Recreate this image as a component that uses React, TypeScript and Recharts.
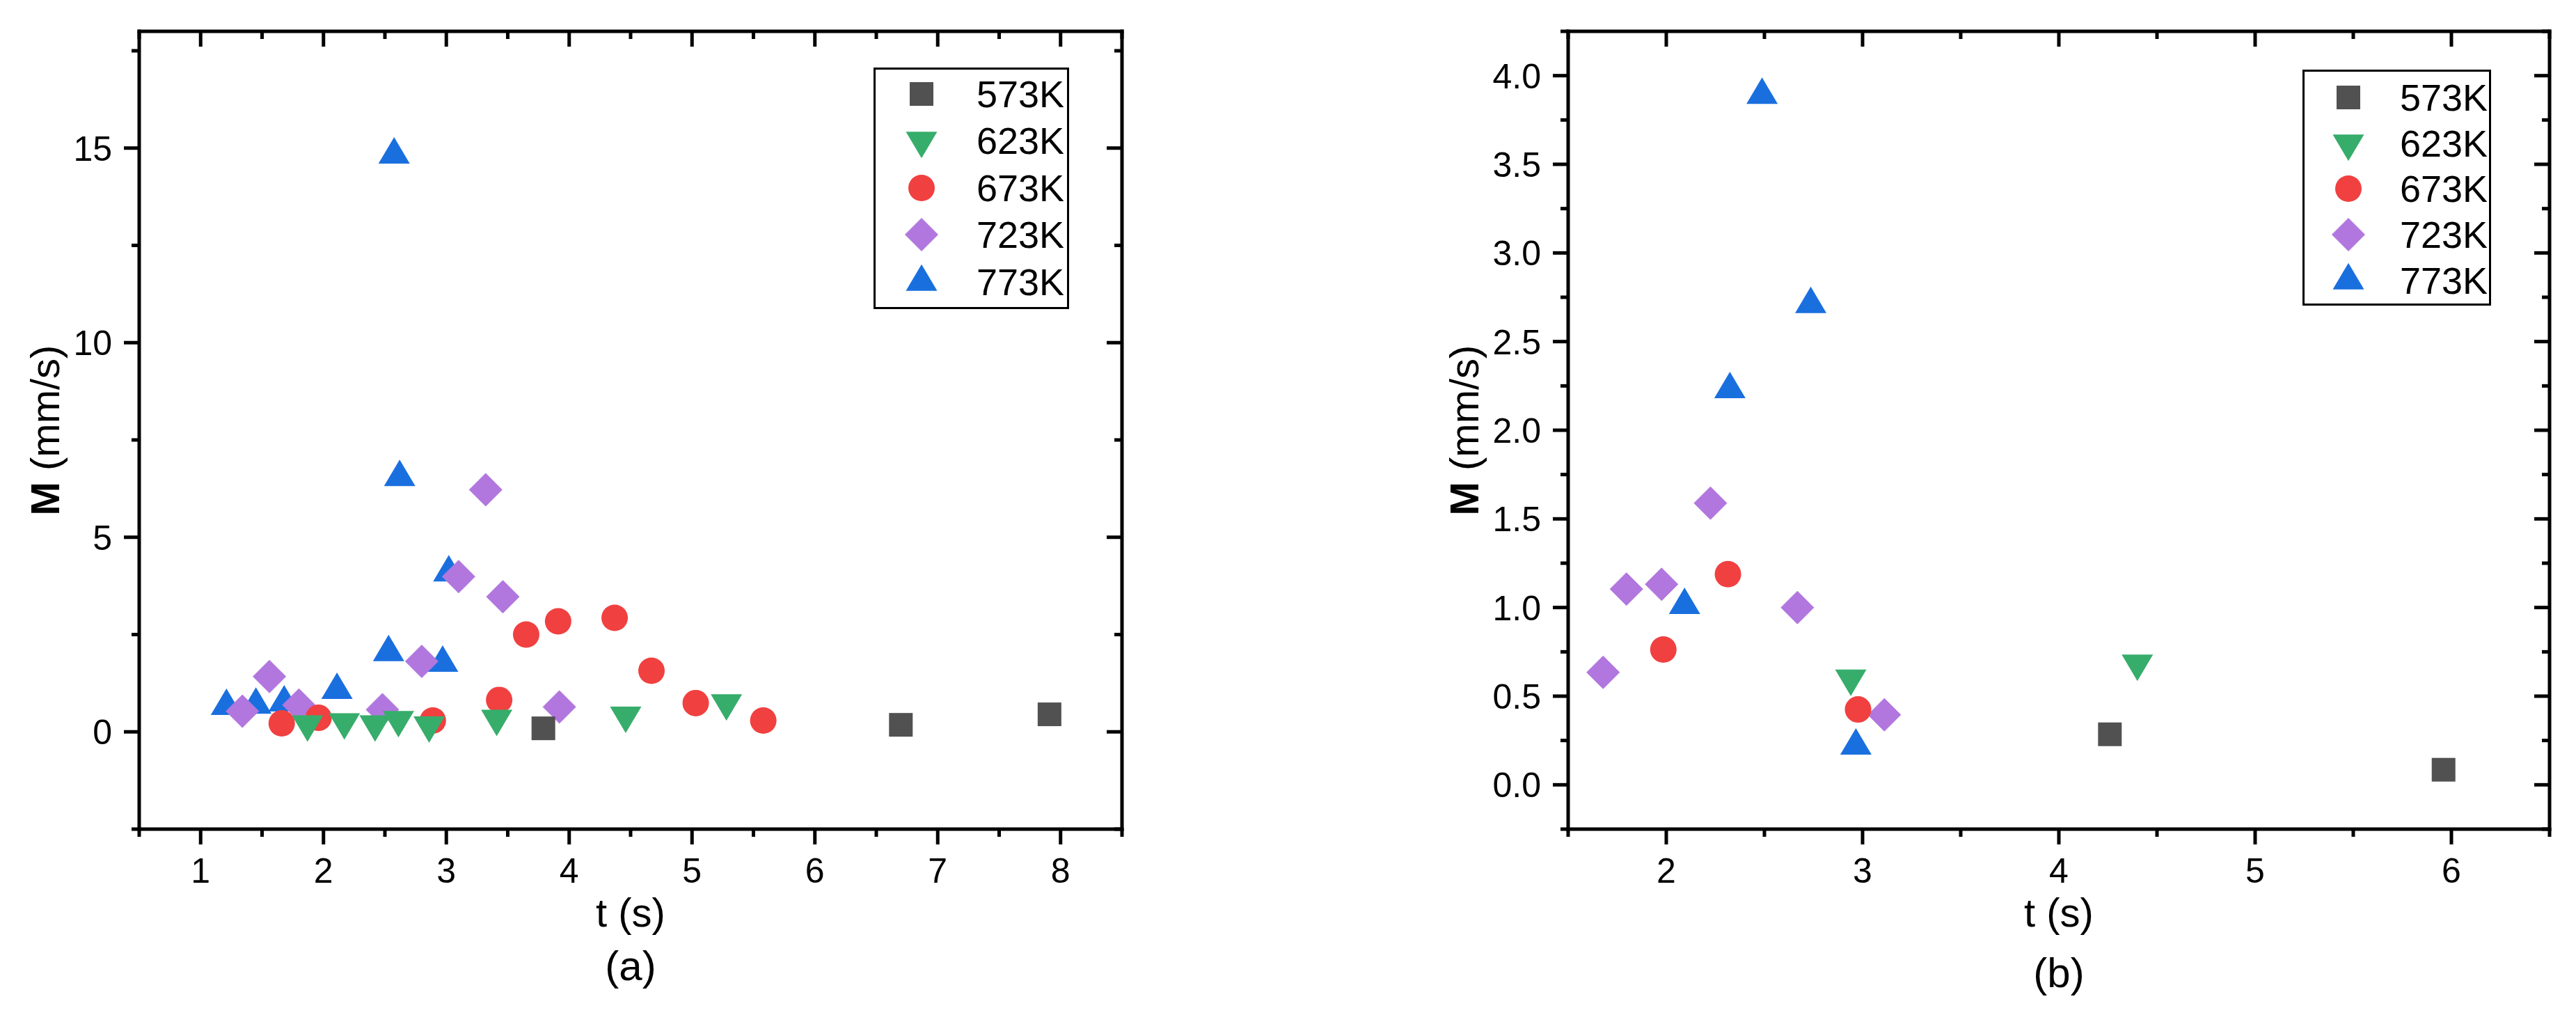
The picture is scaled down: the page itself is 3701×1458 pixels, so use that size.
import { ScatterChart, Scatter, XAxis, YAxis, Legend } from 'recharts'

const FONT = '"Liberation Sans", Arial, Helvetica, sans-serif'

// series names / styles (Origin default palette)
const NAMES = ['573K', '623K', '673K', '723K', '773K']
const COLORS = ['#515151', '#37AD6B', '#F14040', '#B177DE', '#1A6FDF']
const SHAPES = ['square', 'triangleDown', 'circle', 'diamond', 'triangleUp']

// panel (a): [t (s), M (mm/s)]
const A_573K = [[3.79, 0.09], [6.7, 0.18], [7.91, 0.45]]
const A_623K = [[1.87, 0.2], [2.17, 0.25], [2.42, 0.2], [2.61, 0.31], [2.86, 0.17], [3.41, 0.34], [4.46, 0.42], [5.28, 0.74]]
const A_673K = [[1.66, 0.22], [1.96, 0.36], [2.89, 0.29], [3.43, 0.82], [3.65, 2.5], [3.91, 2.84], [4.37, 2.93], [4.67, 1.57], [5.03, 0.74], [5.58, 0.29]]
const A_723K = [[1.34, 0.53], [1.56, 1.42], [1.8, 0.69], [2.48, 0.57], [2.8, 1.81], [3.1, 3.99], [3.32, 6.22], [3.46, 3.47], [3.92, 0.64]]
const A_773K = [[1.21, 0.66], [1.45, 0.69], [1.68, 0.75], [2.11, 1.07], [2.53, 2.04], [2.575, 14.83], [2.62, 6.54], [2.97, 1.77], [3.02, 4.09]]

// panel (b)
const B_573K = [[4.26, 0.285], [5.96, 0.085]]
const B_623K = [[2.94, 0.6], [4.4, 0.685]]
const B_673K = [[1.985, 0.763], [2.314, 1.188], [2.977, 0.425]]
const B_723K = [[1.678, 0.634], [1.797, 1.104], [1.976, 1.131], [2.225, 1.589], [2.668, 1.0], [3.111, 0.395]]
const B_773K = [[2.093, 1.013], [2.324, 2.23], [2.488, 3.89], [2.736, 2.71], [2.966, 0.22]]

// tick values (minor + major)
const A_X_TICKS = [0.5, 1, 1.5, 2, 2.5, 3, 3.5, 4, 4.5, 5, 5.5, 6, 6.5, 7, 7.5, 8, 8.5]
const A_Y_TICKS = [-2.5, 0, 2.5, 5, 7.5, 10, 12.5, 15, 17.5]
const B_X_TICKS = [1.5, 2, 2.5, 3, 3.5, 4, 4.5, 5, 5.5, 6, 6.5]
const B_Y_TICKS = [-0.25, 0, 0.25, 0.5, 0.75, 1, 1.25, 1.5, 1.75, 2, 2.25, 2.5, 2.75, 3, 3.25, 3.5, 3.75, 4, 4.25]

const toPoints = (rows: number[][]) => rows.map(([t, m]) => ({ t, m }))

const MAJOR = 22
const MINOR = 11
const STROKE = 5
const TICK_FONT = 50
const AXIS_LINE = { stroke: '#000', strokeWidth: STROKE, strokeLinecap: 'square' as const }

function Marker({ kind, cx, cy, fill }: { kind: string; cx: number; cy: number; fill: string }) {
  if (kind === 'square') return <rect x={cx - 17} y={cy - 17} width={34} height={34} fill={fill} />
  if (kind === 'circle') return <circle cx={cx} cy={cy} r={19} fill={fill} />
  if (kind === 'diamond') {
    const r = 23.5
    return <path d={`M${cx},${cy - r}L${cx + r},${cy}L${cx},${cy + r}L${cx - r},${cy}Z`} fill={fill} strokeLinejoin="round" stroke={fill} strokeWidth={1} />
  }
  const w = 45
  const h = 38
  if (kind === 'triangleUp')
    return <path d={`M${cx},${cy - (2 * h) / 3}L${cx + w / 2},${cy + h / 3}L${cx - w / 2},${cy + h / 3}Z`} fill={fill} />
  return <path d={`M${cx},${cy + (2 * h) / 3}L${cx + w / 2},${cy - h / 3}L${cx - w / 2},${cy - h / 3}Z`} fill={fill} />
}

interface PanelCfg {
  width: number
  yAxisWidth: number
  rightWidth: number
  xDomain: [number, number]
  yDomain: [number, number]
  xTicks: number[]
  yTicks: number[]
  xMajor: (v: number) => boolean
  yMajor: (v: number) => boolean
  yFmt: (v: number) => string
  yTitleGap: number
  caption: string
  captionDy: number
  series: number[][][]
  legend: { left: number; top: number; width: number; height: number; rowH: number; padTop: number; symX: number; textX: number }
}

const isInt = (v: number) => Math.abs(v - Math.round(v)) < 1e-9

const PANEL_A: PanelCfg = {
  width: 1850,
  yAxisWidth: 200,
  rightWidth: 238,
  xDomain: [0.5, 8.5],
  yDomain: [-2.5, 18],
  xTicks: A_X_TICKS,
  yTicks: A_Y_TICKS,
  xMajor: isInt,
  yMajor: (v) => isInt(v / 5),
  yFmt: (v) => String(v),
  yTitleGap: 115,
  caption: '(a)',
  captionDy: 217,
  series: [A_573K, A_623K, A_673K, A_723K, A_773K],
  legend: { left: 1255, top: 97, width: 281, height: 347, rowH: 67.5, padTop: 1, symX: 69, textX: 148 },
}

const PANEL_B: PanelCfg = {
  width: 1851,
  yAxisWidth: 403,
  rightWidth: 38,
  xDomain: [1.5, 6.5],
  yDomain: [-0.25, 4.25],
  xTicks: B_X_TICKS,
  yTicks: B_Y_TICKS,
  xMajor: isInt,
  yMajor: (v) => isInt(v * 2),
  yFmt: (v) => v.toFixed(1),
  yTitleGap: 129,
  caption: '(b)',
  captionDy: 227,
  series: [B_573K, B_623K, B_673K, B_723K, B_773K],
  legend: { left: 1458, top: 100, width: 271, height: 339, rowH: 65.8, padTop: 4, symX: 66, textX: 140 },
}

function LegendBox({ cfg }: { cfg: PanelCfg['legend'] }) {
  return (
    <div
      style={{
        width: cfg.width,
        height: cfg.height,
        boxSizing: 'border-box',
        border: '3px solid #000',
        background: '#fff',
        paddingTop: cfg.padTop,
      }}
    >
      {NAMES.map((name, i) => (
        <div key={name} style={{ height: cfg.rowH, position: 'relative' }}>
          <svg width={60} height={60} style={{ position: 'absolute', left: cfg.symX - 33, top: cfg.rowH / 2 - 30 }}>
            <Marker kind={SHAPES[i]} cx={30} cy={30} fill={COLORS[i]} />
          </svg>
          <span
            style={{
              position: 'absolute',
              left: cfg.textX - 3,
              top: '50%',
              transform: 'translateY(-50%)',
              fontSize: 54,
              lineHeight: 1,
              fontFamily: FONT,
              color: '#000',
            }}
          >
            {name}
          </span>
        </div>
      ))}
    </div>
  )
}

function Panel({ cfg }: { cfg: PanelCfg }) {
  const bottomTick = (p: any) => {
    const major = cfg.xMajor(p.payload.value)
    return (
      <g>
        <line x1={p.x} x2={p.x} y1={p.y} y2={p.y + (major ? MAJOR : MINOR)} stroke="#000" strokeWidth={STROKE} />
        {major && (
          <text x={p.x} y={p.y + 77} textAnchor="middle" fontSize={TICK_FONT} fontFamily={FONT} fill="#000">
            {String(p.payload.value)}
          </text>
        )}
      </g>
    )
  }
  const topTick = (p: any) => {
    const major = cfg.xMajor(p.payload.value)
    return <line x1={p.x} x2={p.x} y1={p.y} y2={p.y + (major ? MAJOR : MINOR)} stroke="#000" strokeWidth={STROKE} />
  }
  const leftTick = (p: any) => {
    const major = cfg.yMajor(p.payload.value)
    return (
      <g>
        <line x1={p.x - (major ? MAJOR : MINOR)} x2={p.x} y1={p.y} y2={p.y} stroke="#000" strokeWidth={STROKE} />
        {major && (
          <text x={p.x - 39} y={p.y + 18} textAnchor="end" fontSize={TICK_FONT} fontFamily={FONT} fill="#000">
            {cfg.yFmt(p.payload.value)}
          </text>
        )}
      </g>
    )
  }
  const rightTick = (p: any) => {
    const major = cfg.yMajor(p.payload.value)
    return <line x1={p.x - (major ? MAJOR : MINOR)} x2={p.x} y1={p.y} y2={p.y} stroke="#000" strokeWidth={STROKE} />
  }

  const xLabel = (p: any) => {
    const vb = p.viewBox
    const cx = vb.x + vb.width / 2
    return (
      <g>
        <text x={cx} y={vb.y + 140} textAnchor="middle" fontSize={58} fontFamily={FONT} fill="#000">
          t (s)
        </text>
        <text x={cx} y={vb.y + cfg.captionDy} textAnchor="middle" fontSize={60} fontFamily={FONT} fill="#000">
          {cfg.caption}
        </text>
      </g>
    )
  }
  const yLabel = (p: any) => {
    const vb = p.viewBox
    const x = vb.x + vb.width - cfg.yTitleGap
    const y = vb.y + vb.height / 2
    return (
      <text x={x} y={y} transform={`rotate(-90 ${x} ${y})`} textAnchor="middle" fontSize={58} fontFamily={FONT} fill="#000">
        <tspan fontWeight="bold">M</tspan> (mm/s)
      </text>
    )
  }

  // draw 773K first so the other series sit on top, as in the original
  const order = [4, 3, 2, 1, 0]

  return (
    <ScatterChart width={cfg.width} height={1458} margin={{ top: 0, right: 0, bottom: 0, left: 0 }}>
      <XAxis
        xAxisId="bottom"
        type="number"
        dataKey="t"
        domain={cfg.xDomain}
        allowDataOverflow
        ticks={cfg.xTicks}
        interval={0}
        height={267}
        tickSize={0}
        tickMargin={0}
        tickLine={false}
        axisLine={AXIS_LINE}
        tick={bottomTick}
        label={xLabel}
      />
      <XAxis
        xAxisId="top"
        orientation="top"
        type="number"
        dataKey="t"
        domain={cfg.xDomain}
        allowDataOverflow
        ticks={cfg.xTicks}
        interval={0}
        height={45}
        tickSize={0}
        tickMargin={0}
        tickLine={false}
        axisLine={AXIS_LINE}
        tick={topTick}
      />
      <YAxis
        yAxisId="left"
        type="number"
        dataKey="m"
        domain={cfg.yDomain}
        allowDataOverflow
        ticks={cfg.yTicks}
        interval={0}
        width={cfg.yAxisWidth}
        tickSize={0}
        tickMargin={0}
        tickLine={false}
        axisLine={AXIS_LINE}
        tick={leftTick}
        label={yLabel}
      />
      <YAxis
        yAxisId="right"
        orientation="right"
        type="number"
        dataKey="m"
        domain={cfg.yDomain}
        allowDataOverflow
        ticks={cfg.yTicks}
        interval={0}
        width={cfg.rightWidth}
        tickSize={0}
        tickMargin={0}
        tickLine={false}
        axisLine={AXIS_LINE}
        tick={rightTick}
      />
      {order.map((i) => (
        <Scatter
          key={NAMES[i]}
          name={NAMES[i]}
          xAxisId="bottom"
          yAxisId="left"
          data={toPoints(cfg.series[i])}
          fill={COLORS[i]}
          isAnimationActive={false}
          shape={(p: any) => <Marker kind={SHAPES[i]} cx={p.cx} cy={p.cy} fill={COLORS[i]} />}
        />
      ))}
      <Legend
        layout="vertical"
        align="center"
        verticalAlign="middle"
        content={() => <LegendBox cfg={cfg.legend} />}
        wrapperStyle={{
          left: cfg.legend.left,
          top: cfg.legend.top,
          width: cfg.legend.width,
          height: cfg.legend.height,
          right: 'auto',
          bottom: 'auto',
        }}
      />
    </ScatterChart>
  )
}

export default function App() {
  return (
    <div style={{ position: 'absolute', left: 0, top: 0, width: 3701, height: 1458, background: '#fff' }}>
      <div style={{ position: 'absolute', left: 0, top: 0 }}>
        <Panel cfg={PANEL_A} />
      </div>
      <div style={{ position: 'absolute', left: 1850, top: 0 }}>
        <Panel cfg={PANEL_B} />
      </div>
    </div>
  )
}
